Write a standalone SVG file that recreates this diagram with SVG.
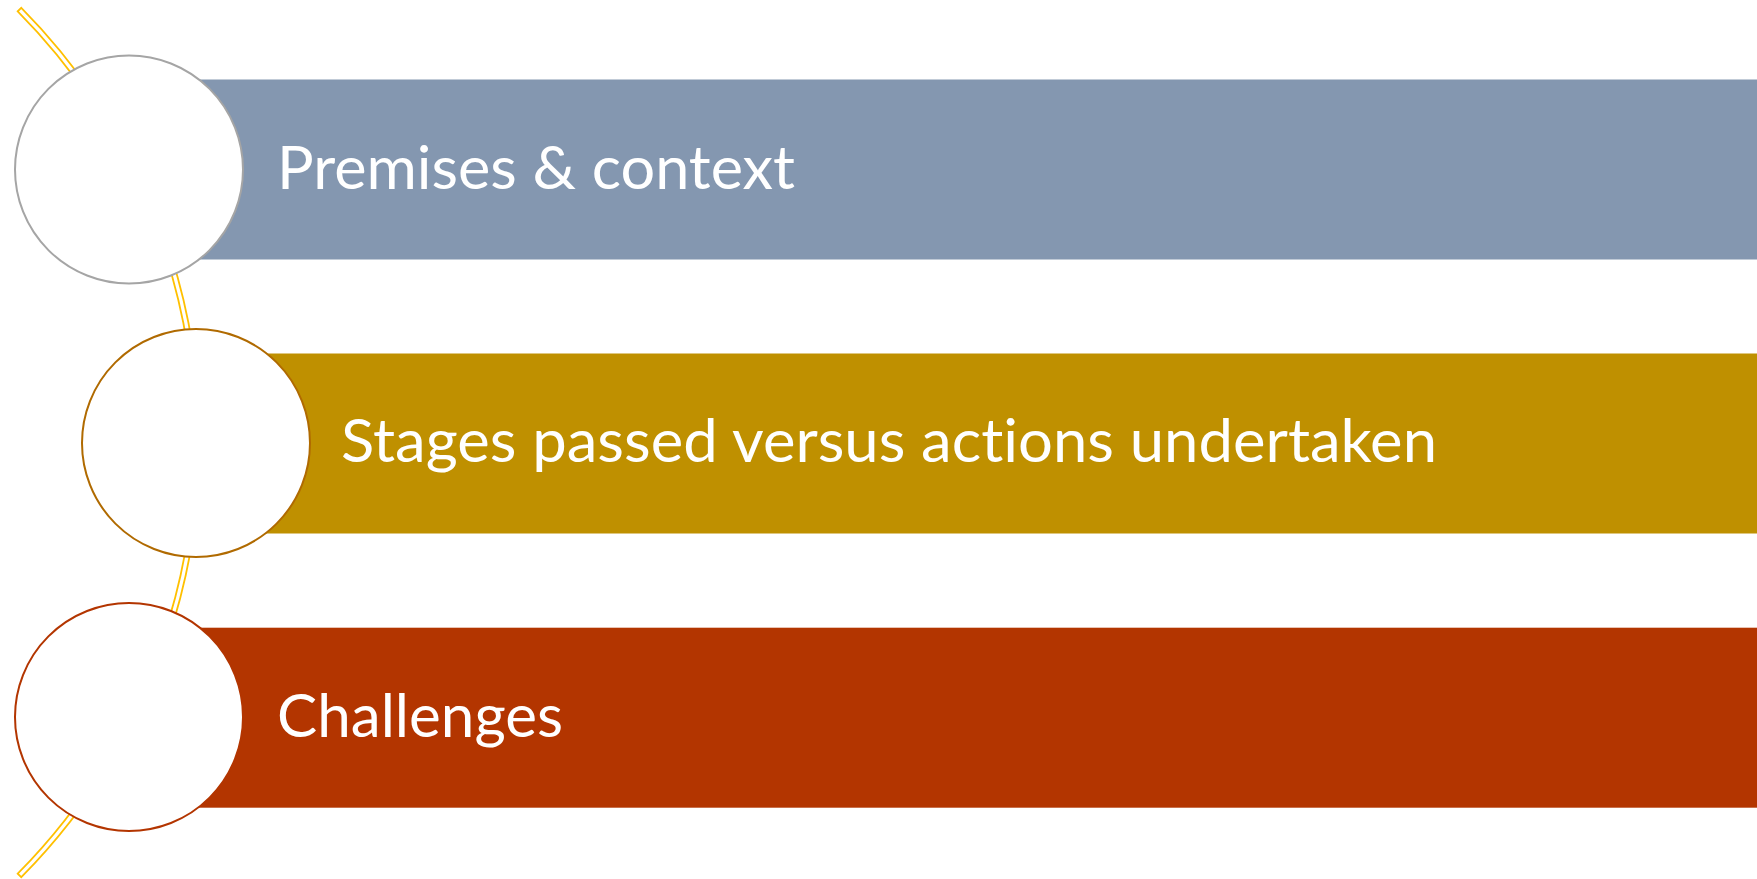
<svg xmlns="http://www.w3.org/2000/svg" width="1757" height="879" viewBox="0 0 1757 879">
<style>
.lbl{font-family:Lato,"Liberation Sans",sans-serif;font-size:60px;fill:#FFFFFF;font-variant-ligatures:none;font-feature-settings:"liga" 0,"clig" 0}
.dot{fill:#FFFFFF;stroke-width:2}
</style>
<rect width="1757" height="879" fill="#FFFFFF"/>
<g id="connectors">
<path d="M 21.3 7.8 A 618 618 0 0 1 21.3 877.2 L 17.7 873.7 A 613 613 0 0 0 17.7 11.3 Z" fill="#FFFFFF" stroke="#FFC000" stroke-width="1.8" stroke-linejoin="miter"/>
</g>
<g id="node1">
<rect x="129" y="79.5" width="1628" height="180" fill="#8497B0"/>
<circle class="dot" cx="129" cy="169.5" r="114" stroke="#A5A5A5"/>
<text class="lbl" x="277" y="188.5" textLength="518" lengthAdjust="spacingAndGlyphs">Premises &amp; context</text>
</g>
<g id="node2">
<rect x="196" y="353.5" width="1561" height="180" fill="#BF9000"/>
<circle class="dot" cx="196" cy="443" r="114" stroke="#B06A00"/>
<text class="lbl" x="341" y="461.5" textLength="1096" lengthAdjust="spacingAndGlyphs">Stages passed versus actions undertaken</text>
</g>
<g id="node3">
<rect x="129" y="627.7" width="1628" height="180" fill="#B33500"/>
<circle class="dot" cx="129" cy="717" r="114" stroke="#B33500"/>
<text class="lbl" x="277" y="736.8" textLength="286" lengthAdjust="spacingAndGlyphs">Challenges</text>
</g>
</svg>
